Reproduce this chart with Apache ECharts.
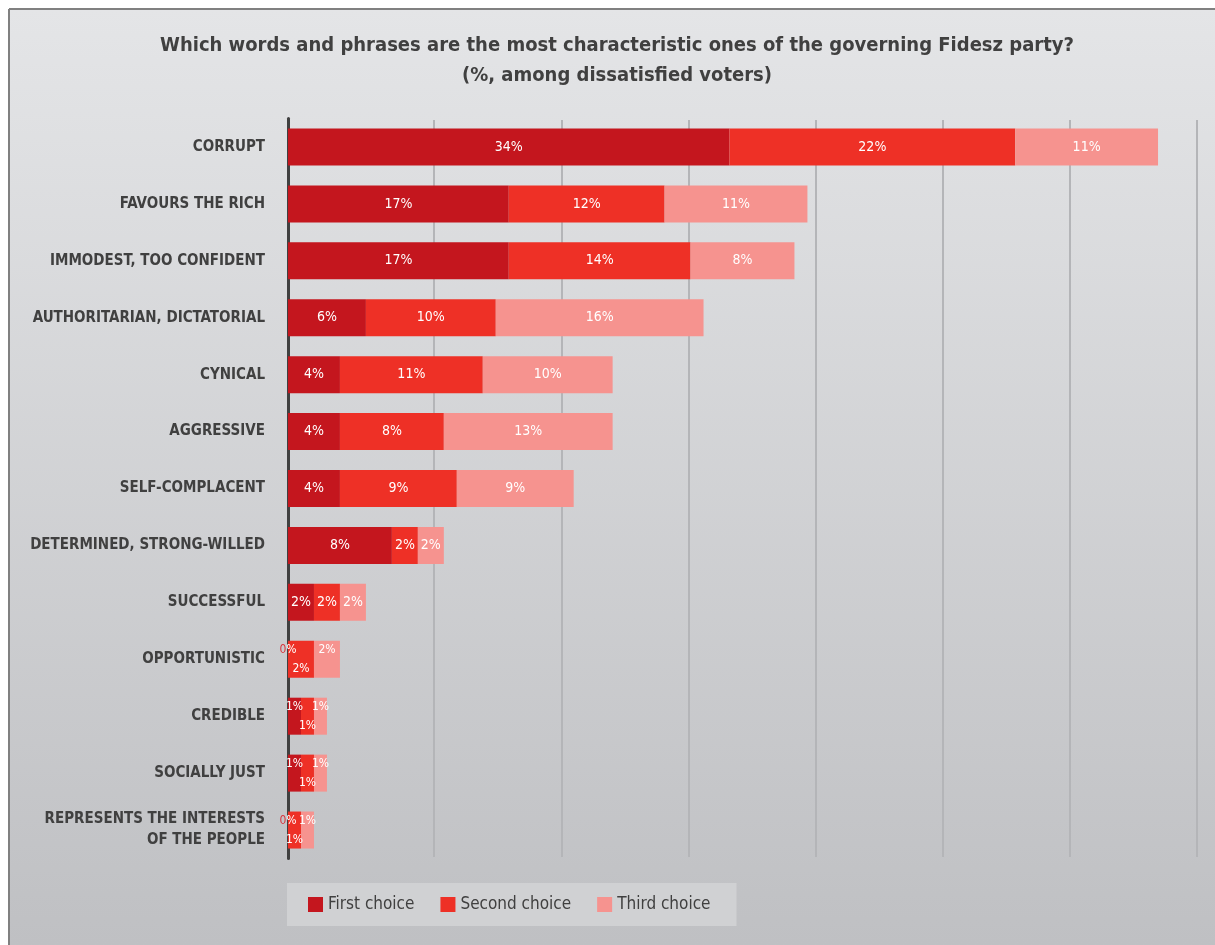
<!DOCTYPE html>
<html>
<head>
<meta charset="utf-8">
<script src="https://cdn.jsdelivr.net/npm/echarts@6/dist/echarts.min.js"></script>
<style>
html,body{margin:0;padding:0;background:#ffffff;}
#chart{width:1215px;height:945px;}
</style>
</head>
<body>
<div id="chart"></div>
<script>
const categories = [
  'CORRUPT', 'FAVOURS THE RICH', 'IMMODEST, TOO CONFIDENT', 'AUTHORITARIAN, DICTATORIAL',
  'CYNICAL', 'AGGRESSIVE', 'SELF-COMPLACENT', 'DETERMINED, STRONG-WILLED', 'SUCCESSFUL',
  'OPPORTUNISTIC', 'CREDIBLE', 'SOCIALLY JUST', 'REPRESENTS THE INTERESTS\nOF THE PEOPLE'
];
const firstChoice  = [34, 17, 17, 6, 4, 4, 4, 8, 2, 0, 1, 1, 0];
const secondChoice = [22, 12, 14, 10, 11, 8, 9, 2, 2, 2, 1, 1, 1];
const thirdChoice  = [11, 11, 8, 16, 10, 13, 9, 2, 2, 2, 1, 1, 1];
const seriesNames = ['First choice', 'Second choice', 'Third choice'];
const gridTicks = [0, 10, 20, 30, 40, 50, 60, 70];

const FONT = '"DejaVu Sans Condensed", "Liberation Sans Narrow", "DejaVu Sans", sans-serif';
const colors = ['#c4161e', '#ee3026', '#f6938f'];
const allSeries = [firstChoice, secondChoice, thirdChoice];

function narrowRow(i) {
  return firstChoice[i] <= 1 || secondChoice[i] <= 1 || thirdChoice[i] <= 1;
}

function buildData(values, sIdx) {
  return values.map((v, i) => {
    const item = { value: v };
    if (narrowRow(i)) {
      item.label = { offset: [0, sIdx === 1 ? 10 : -9], fontSize: 12 };
    }
    return item;
  });
}

const chart = echarts.init(document.getElementById('chart'), null, { renderer: 'canvas' });

const option = {
  backgroundColor: '#ffffff',
  animation: false,
  graphic: [
    {
      type: 'rect', z: -10, silent: true,
      shape: { x: 10, y: 10, width: 1205, height: 935 },
      style: {
        fill: new echarts.graphic.LinearGradient(0, 0, 0, 1, [
          { offset: 0, color: '#e4e5e7' },
          { offset: 1, color: '#bfc0c3' }
        ])
      }
    },
    {
      type: 'line', z: -9, silent: true,
      shape: { x1: 9, y1: 9, x2: 1215, y2: 9 },
      style: { stroke: '#808080', lineWidth: 2 }
    },
    {
      type: 'line', z: -9, silent: true,
      shape: { x1: 9, y1: 9, x2: 9, y2: 945 },
      style: { stroke: '#808080', lineWidth: 2 }
    }
  ],
  title: {
    text: 'Which words and phrases are the most characteristic ones of the governing Fidesz party?\n(%, among dissatisfied voters)',
    left: 612,
    top: 26,
    textAlign: 'center',
    textStyle: {
      fontFamily: FONT, fontWeight: 'bold', fontSize: 20, color: '#404040', lineHeight: 30
    }
  },
  legend: {
    data: seriesNames,
    left: 287,
    top: 883,
    orient: 'horizontal',
    backgroundColor: '#d0d1d3',
    padding: [13, 26, 13, 21],
    itemWidth: 15,
    itemHeight: 15,
    itemGap: 26,
    icon: 'rect',
    textStyle: { fontFamily: FONT, fontSize: 17, color: '#404040' }
  },
  grid: [
    { left: 288, right: 18, top: 118.5, height: 740, containLabel: false },
    { left: 307, right: 18, top: 120, height: 737, containLabel: false }
  ],
  xAxis: [
    {
      type: 'value', gridIndex: 0, min: 0, max: 70,
      axisLine: { show: false }, axisTick: { show: false },
      axisLabel: { show: false }, splitLine: { show: false }
    },
    {
      type: 'value', gridIndex: 1, min: gridTicks[0], max: gridTicks[gridTicks.length - 1], interval: 10,
      axisLine: { show: false }, axisTick: { show: false }, axisLabel: { show: false },
      splitLine: { show: true, showMinLine: false, lineStyle: { color: '#b4b5b8', width: 2 } }
    }
  ],
  yAxis: [
    {
      type: 'category', gridIndex: 0, data: categories, inverse: true,
      axisLine: { show: true, lineStyle: { color: '#404040', width: 3 } },
      axisTick: { show: false },
      axisLabel: {
        margin: 23, fontFamily: FONT, fontWeight: 'bold', fontSize: 15,
        color: '#404040', lineHeight: 21, align: 'right'
      }
    },
    {
      type: 'category', gridIndex: 1, data: categories, inverse: true, show: false
    }
  ],
  series: allSeries.map((vals, s) => ({
    name: seriesNames[s],
    type: 'bar',
    stack: 'total',
    xAxisIndex: 0,
    yAxisIndex: 0,
    barWidth: 37,
    itemStyle: { color: colors[s] },
    label: {
      show: true,
      position: 'inside',
      fontFamily: FONT,
      fontSize: 14,
      color: '#ffffff',
      formatter: p => p.value === 0 ? '{z|0}%' : p.value + '%',
      rich: { z: { color: '#d9363e', fontFamily: FONT, fontSize: 12 } }
    },
    data: buildData(vals, s)
  }))
};

chart.setOption(option);
</script>
</body>
</html>
